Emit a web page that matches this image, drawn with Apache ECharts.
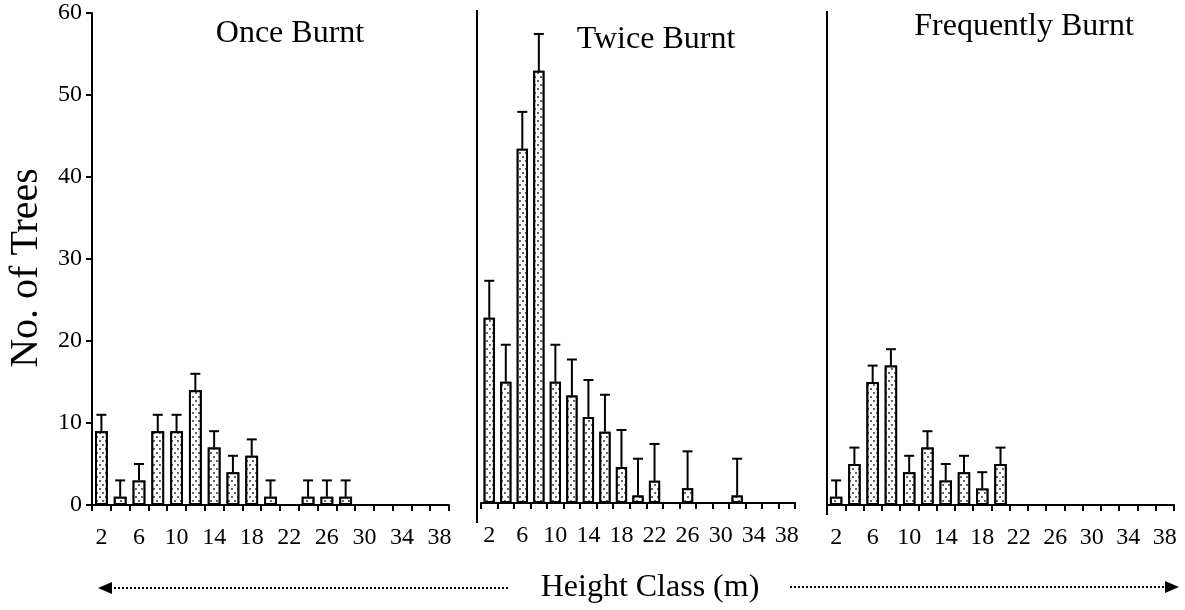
<!DOCTYPE html>
<html><head><meta charset="utf-8">
<script src="https://cdn.jsdelivr.net/npm/echarts@6/dist/echarts.min.js"></script>
<style>html,body{margin:0;padding:0;background:#fff}#c{width:1185px;height:610px}</style>
</head><body><div id="c"></div>
<script>
const heightClasses = ['2','4','6','8','10','12','14','16','18','20','22','24','26','28','30','32','34','36','38'];
const panelTitles = ['Once Burnt', 'Twice Burnt', 'Frequently Burnt'];
const yAxisTitle = 'No. of Trees';
const xAxisTitle = 'Height Class (m)';
const yMin = 0, yMax = 60, yStep = 10;

const onceMean  = [9, 1, 3, 9, 9, 14, 7, 4, 6, 1, 0, 1, 1, 1, 0, 0, 0, 0, 0];
const onceUpper = [11, 3, 5, 11, 11, 16, 9, 6, 8, 3, 0, 3, 3, 3, 0, 0, 0, 0, 0];

const twiceMean  = [22.6, 14.8, 43.2, 52.7, 14.8, 13.1, 10.5, 8.7, 4.4, 0.9, 2.7, 0, 1.8, 0, 0, 0.9, 0, 0, 0];
const twiceUpper = [27.1, 19.3, 47.7, 57.2, 19.3, 17.5, 15.0, 13.2, 8.9, 5.4, 7.2, 0, 6.3, 0, 0, 5.4, 0, 0, 0];

const freqMean  = [1, 5, 15, 17, 4, 7, 3, 4, 2, 5, 0, 0, 0, 0, 0, 0, 0, 0, 0];
const freqUpper = [3, 7, 17, 19, 6, 9, 5, 6, 4, 7, 0, 0, 0, 0, 0, 0, 0, 0, 0];

const means = [onceMean, twiceMean, freqMean];
const uppers = [onceUpper, twiceUpper, freqUpper];

const FONT = '"Liberation Serif", "Times New Roman", serif';
const grids = [
  {left: 92, top: 13, width: 357, height: 492},
  {left: 481, top: 11, width: 314, height: 492},
  {left: 827, top: 13, width: 347, height: 492}
];

const dotDecal = {
  symbol: 'circle',
  symbolSize: 1,
  color: '#333',
  backgroundColor: '#fff',
  dashArrayX: [[2, 4], [0, 3, 2, 1]],
  dashArrayY: [2, 2]
};

function errRender(params, api) {
  const i = api.value(0), v = api.value(1), u = api.value(2);
  if (!(u > v)) return null;
  const p0 = api.coord([i, v]);
  const p1 = api.coord([i, u]);
  const cap = 5;
  return {
    type: 'group',
    children: [
      {type: 'line', shape: {x1: p0[0], y1: p0[1], x2: p1[0], y2: p1[1]}, style: {stroke: '#000', lineWidth: 2}},
      {type: 'line', shape: {x1: p1[0] - cap, y1: p1[1], x2: p1[0] + cap, y2: p1[1]}, style: {stroke: '#000', lineWidth: 2}}
    ]
  };
}

const xAxes = grids.map((g, k) => ({
  type: 'category', gridIndex: k, data: heightClasses, boundaryGap: true,
  axisLine: {show: true, lineStyle: {color: '#000', width: 2}},
  axisTick: {show: true, interval: 0, alignWithLabel: false, length: 6, lineStyle: {color: '#000', width: 2}},
  axisLabel: {interval: 1, color: '#000', fontFamily: FONT, fontSize: 24, margin: 21}
}));

const yAxes = grids.map((g, k) => ({
  type: 'value', gridIndex: k, min: yMin, max: yMax, interval: yStep,
  show: k === 0,
  splitLine: {show: false},
  axisLine: {show: true, lineStyle: {color: '#000', width: 2}},
  axisTick: {show: true, length: 6, lineStyle: {color: '#000', width: 2}},
  axisLabel: {color: '#000', fontFamily: FONT, fontSize: 24, margin: 10}
}));

const series = [];
grids.forEach((g, k) => {
  series.push({
    type: 'bar', xAxisIndex: k, yAxisIndex: k, data: means[k], barWidth: '68%',
    itemStyle: {color: '#fff', borderColor: '#000', borderWidth: 2, decal: dotDecal},
    silent: true, z: 2
  });
  series.push({
    type: 'custom', xAxisIndex: k, yAxisIndex: k, renderItem: errRender,
    data: means[k].map((m, i) => [i, m, uppers[k][i]]),
    encode: {x: 0, y: [1, 2]}, silent: true, z: 3
  });
});

const titleCenters = [[290, 34], [656, 40], [1024, 27]];
const graphic = [];
panelTitles.forEach((t, k) => graphic.push({
  type: 'text', x: titleCenters[k][0], y: titleCenters[k][1],
  style: {text: t, fill: '#000', font: '32px ' + FONT, textAlign: 'center', textVerticalAlign: 'middle'}
}));
// y axis title
graphic.push({
  type: 'text', x: 26, y: 268, rotation: Math.PI / 2,
  style: {text: yAxisTitle, fill: '#000', font: '40px ' + FONT, textAlign: 'center', textVerticalAlign: 'middle'}
});
// panel separators
graphic.push({type: 'line', shape: {x1: 477, y1: 10, x2: 477, y2: 523}, style: {stroke: '#000', lineWidth: 2}});
graphic.push({type: 'line', shape: {x1: 827, y1: 11, x2: 827, y2: 515}, style: {stroke: '#000', lineWidth: 2}});
// x axis title with arrows
graphic.push({
  type: 'text', x: 650, y: 588,
  style: {text: xAxisTitle, fill: '#000', font: '32px ' + FONT, textAlign: 'center', textVerticalAlign: 'middle'}
});
graphic.push({type: 'line', shape: {x1: 110, y1: 588, x2: 510, y2: 588}, style: {stroke: '#000', lineWidth: 2, lineDash: [2, 2]}});
graphic.push({type: 'polygon', shape: {points: [[98, 588], [112, 582], [112, 594]]}, style: {fill: '#000'}});
graphic.push({type: 'line', shape: {x1: 790, y1: 587, x2: 1166, y2: 587}, style: {stroke: '#000', lineWidth: 2, lineDash: [2, 2]}});
graphic.push({type: 'polygon', shape: {points: [[1179, 587], [1165, 581], [1165, 593]]}, style: {fill: '#000'}});

const chart = echarts.init(document.getElementById('c'), null, {renderer: 'canvas'});
chart.setOption({
  backgroundColor: '#fff',
  animation: false,
  grid: grids,
  xAxis: xAxes,
  yAxis: yAxes,
  series: series,
  graphic: graphic
});
</script>
</body></html>
